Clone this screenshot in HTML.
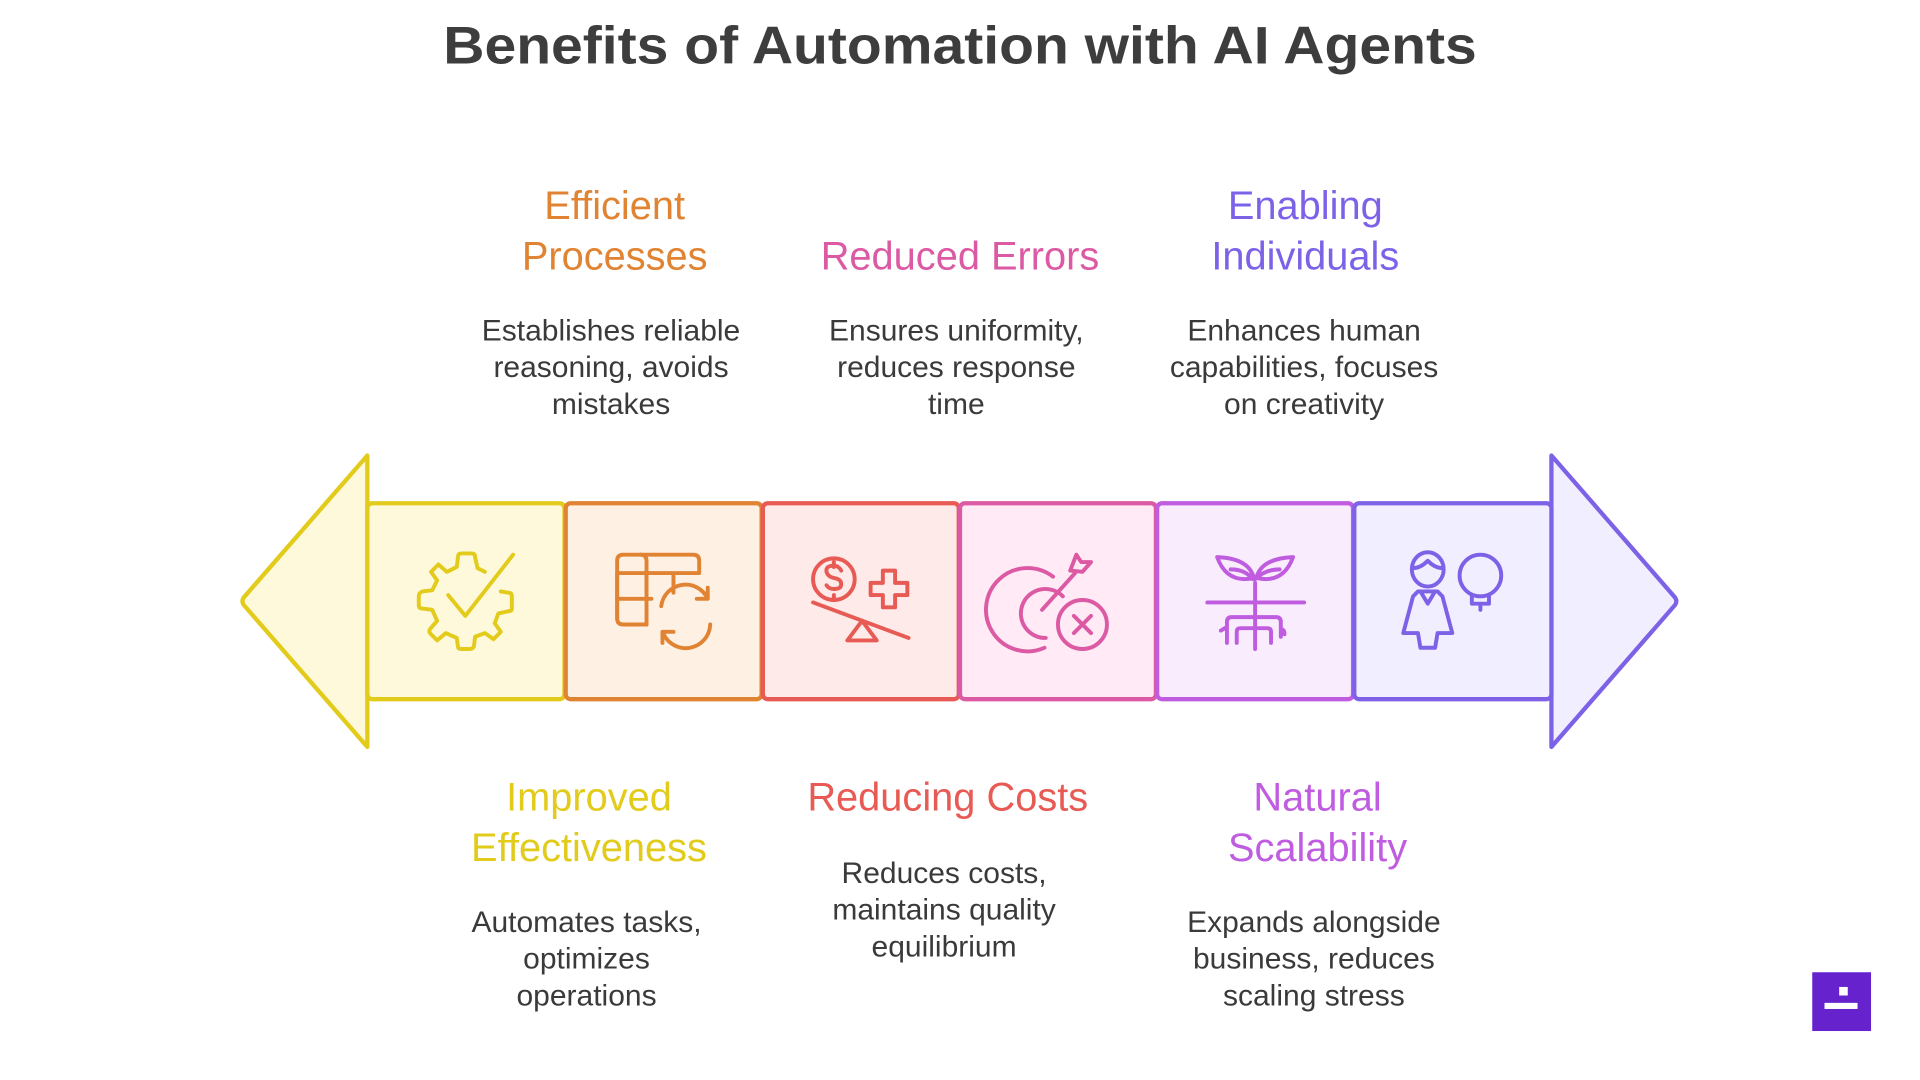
<!DOCTYPE html>
<html><head><meta charset="utf-8"><style>
html,body{margin:0;padding:0;background:#fff;width:1920px;height:1080px;overflow:hidden}
svg{display:block}
text{font-family:"Liberation Sans",sans-serif}
.h{font-size:32.5px;text-anchor:middle}
.b{font-size:24.5px;fill:#3a3a3a;text-anchor:middle}
.ic{fill:none;stroke-width:3.2;stroke-linecap:round;stroke-linejoin:round}
</style></head><body>
<svg width="1920" height="1080" viewBox="0 0 1568 882" xmlns="http://www.w3.org/2000/svg">
<text x="784" y="52" text-anchor="middle" textLength="844" lengthAdjust="spacingAndGlyphs" style="font-size:43px;font-weight:900;fill:#3d3d3d">Benefits of Automation with AI Agents</text>

<path d="M300 372 L199 488 Q197 491 199 494 L300 610 Z" fill="#fff9dc" stroke="#e2cb1b" stroke-width="3.5" stroke-linejoin="round"/>
<path d="M1267 372 L1368 488 Q1370 491 1368 494 L1267 610 Z" fill="#f1efff" stroke="#7d62e8" stroke-width="3.5" stroke-linejoin="round"/>

<rect x="300" y="411" width="161" height="160" rx="4" fill="#fff9dc" stroke="#e2cb1b" stroke-width="3.5"/>
<rect x="462" y="411" width="160" height="160" rx="4" fill="#fff0e4" stroke="#e08433" stroke-width="3.5"/>
<rect x="623" y="411" width="160" height="160" rx="4" fill="#ffeaea" stroke="#e85a54" stroke-width="3.5"/>
<rect x="784" y="411" width="160" height="160" rx="4" fill="#ffeaf5" stroke="#dc5aa3" stroke-width="3.5"/>
<rect x="945" y="411" width="160" height="160" rx="4" fill="#f9edfd" stroke="#bf5ce0" stroke-width="3.5"/>
<rect x="1106" y="411" width="161" height="160" rx="4" fill="#f1efff" stroke="#7d62e8" stroke-width="3.5"/>

<!-- gear check -->
<g class="ic" stroke="#e2cb1b">
<path d="M396 467 L390 464 L388 455 Q388 452 385 452 L377 452 Q374 452 374 455 L373 463 L365 467 L358 461 L352 467 L357 474 L353 482 L345 483 Q342 484 342 487 L342 494 Q342 497 345 497 L353 498 L357 507 L351 514 Q350 516 352 518 L357 523 L364 517 L373 521 L374 528 Q374 530 377 530 L384 530 Q386 530 387 528 L388 520 L396 517 L403 522 L409 516 L404 509 L407 501 L416 499 Q418 499 418 497 L418 487 Q418 484 415 484 L409 483"/>
<path d="M366 486 L380 503 L419 453"/>
</g>
<!-- table refresh -->
<g class="ic" stroke="#e08433">
<path d="M528 485 V458 q0-5 -5-5 H509 q-5 0 -5 5 V505 q0 5 5 5 H528"/>
<path d="M504 468 H571 V458 q0-5-5-5 H523 M504 489 H532 M504 468 V505 M528 468 V510 M550 468 V484"/>
<path d="M540 495 a20 20 0 0 1 38 -6 M578 480 v9 h-9"/>
<path d="M580 510 a20 20 0 0 1 -38 8 M541 525 v-9 h9"/>
</g>
<!-- seesaw -->
<g class="ic" stroke="#e85a54">
<circle cx="681" cy="473" r="17"/>
<path d="M687 466 q-2-4 -6-4 q-7 0 -6 5 q1 4 6 5 q6 1 6 5 q0 4 -6 4 q-4 0 -6-3 M681 459 v4 M681 486 v4"/>
<path d="M716 480 v-10 h10 v-10 h10 v10 h10 v10 h-10 v10 h-10 v-10 z" transform="translate(-5,6)"/>
<path d="M664 492 L742 521"/>
<path d="M704 507 L692 523 H716 Z"/>
</g>
<!-- target x -->
<g class="ic" stroke="#dc5aa3">
<path d="M860 471 a34 34 0 1 0 -7 58"/>
<path d="M868 487 a20 20 0 1 0 -14 34"/>
<path d="M851 498 L878 468"/>
<path d="M874 466 l5 -13 l4 6 l8 0 l-7 8 z"/>
<circle cx="884" cy="510" r="20"/>
<path d="M877 503 l14 14 M891 503 l-14 14"/>
</g>
<!-- plant -->
<g class="ic" stroke="#bf5ce0">
<path d="M1025 476 V530 M986 492 H1065"/>
<path d="M1024 472 q-4-16 -30-17 q8 22 30 17 M1026 472 q4-16 30-17 q-8 22 -30 17 M1005 465 q12 0 18 8 M1045 465 q-12 0 -20 8"/>
<path d="M1002 525 V508 q0-4 4-4 H1042 q4 0 4 4 V520 M997 515 l5-3 M1010 525 V516 q0-3 3-3 H1035 q3 0 3 3 V525 M1046 514 q3 0 3 4"/>
</g>
<!-- person bulb -->
<g class="ic" stroke="#7d62e8">
<ellipse cx="1166" cy="465" rx="13" ry="14"/>
<path d="M1154 464 q6 0 12-6 q6 6 12 6"/>
<path d="M1158 483 h16 l4 4 l8 30 h-12 l-2 12 h-12 l-2 -12 h-12 l8 -30 z M1160 483 l6 10 l6 -10"/>
<circle cx="1209" cy="470" r="17"/>
<path d="M1202 486 v7 h14 v-7 M1209 493 v5"/>
</g>

<text class="h" fill="#e08433" x="502" y="179">Efficient</text>
<text class="h" fill="#e08433" x="502" y="220">Processes</text>
<text class="b" x="499" y="278">Establishes reliable</text>
<text class="b" x="499" y="308">reasoning, avoids</text>
<text class="b" x="499" y="338">mistakes</text>

<text class="h" fill="#dc5aa3" x="784" y="220">Reduced Errors</text>
<text class="b" x="781" y="278">Ensures uniformity,</text>
<text class="b" x="781" y="308">reduces response</text>
<text class="b" x="781" y="338">time</text>

<text class="h" fill="#7d62e8" x="1066" y="179">Enabling</text>
<text class="h" fill="#7d62e8" x="1066" y="220">Individuals</text>
<text class="b" x="1065" y="278">Enhances human</text>
<text class="b" x="1065" y="308">capabilities, focuses</text>
<text class="b" x="1065" y="338">on creativity</text>

<text class="h" fill="#e2cb1b" x="481" y="662">Improved</text>
<text class="h" fill="#e2cb1b" x="481" y="703">Effectiveness</text>
<text class="b" x="479" y="761">Automates tasks,</text>
<text class="b" x="479" y="791">optimizes</text>
<text class="b" x="479" y="821">operations</text>

<text class="h" fill="#e85a54" x="774" y="662">Reducing Costs</text>
<text class="b" x="771" y="721">Reduces costs,</text>
<text class="b" x="771" y="751">maintains quality</text>
<text class="b" x="771" y="781">equilibrium</text>

<text class="h" fill="#bf5ce0" x="1076" y="662">Natural</text>
<text class="h" fill="#bf5ce0" x="1076" y="703">Scalability</text>
<text class="b" x="1073" y="761">Expands alongside</text>
<text class="b" x="1073" y="791">business, reduces</text>
<text class="b" x="1073" y="821">scaling stress</text>

<rect x="1480" y="794" width="48" height="48" fill="#6622cc"/>
<rect x="1502" y="806" width="7" height="7" fill="#fff"/>
<rect x="1490" y="819" width="27" height="5" fill="#fff"/>
</svg>
</body></html>
